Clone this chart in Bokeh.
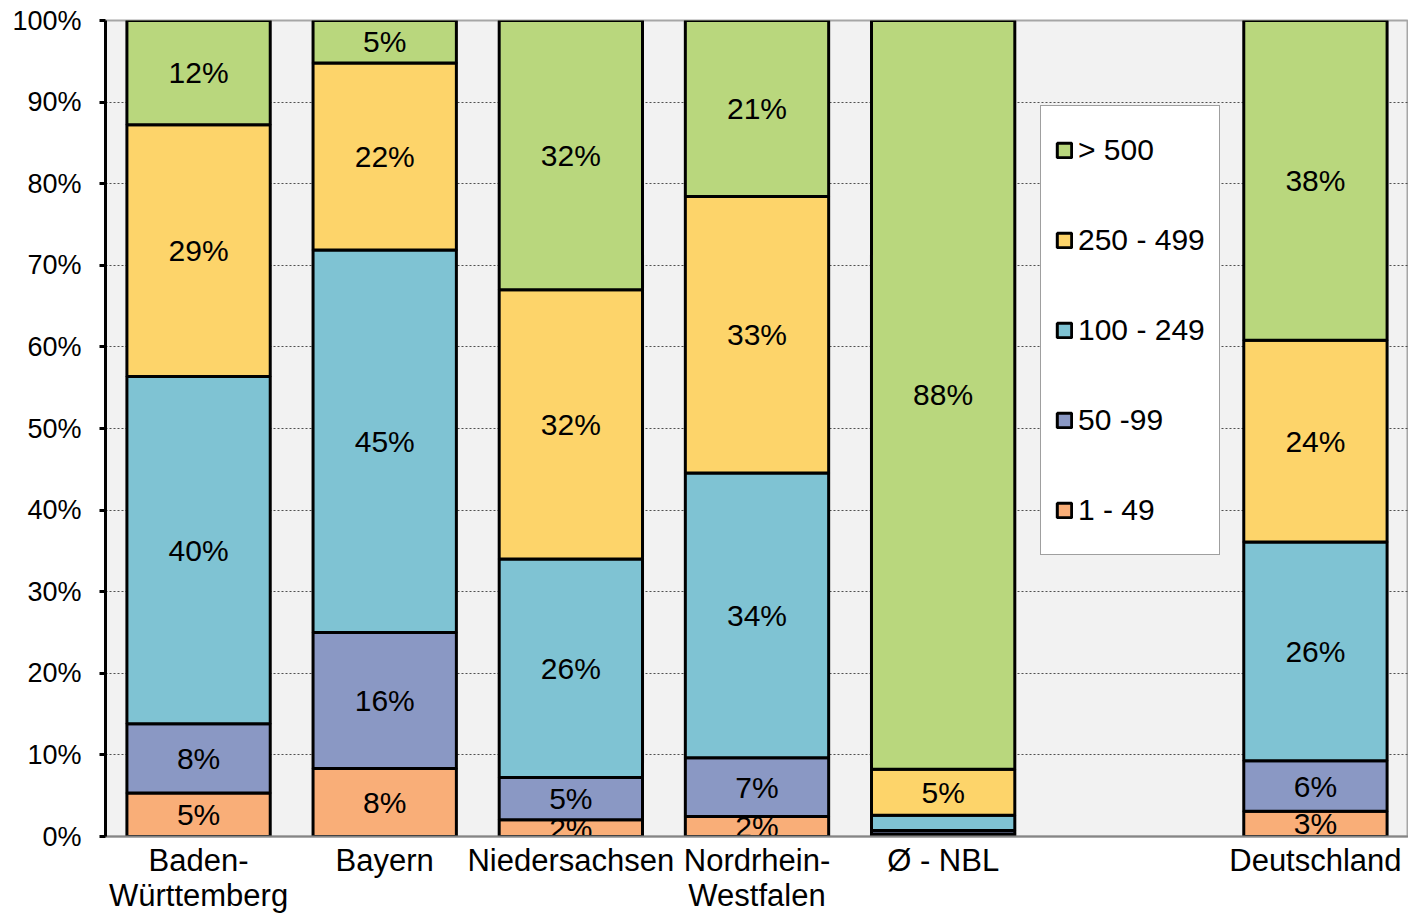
from bokeh.plotting import figure
from bokeh.models import (ColumnDataSource, Range1d, FactorRange, Legend, LegendItem,
                          SingleIntervalTicker, PrintfTickFormatter)
from bokeh.core.properties import value
from bokeh.embed import file_html
from bokeh.resources import INLINE

# ---- data (raw shares in %, chart normalises each column to 100%) ----
factors = ["Baden-\nWürttemberg", "Bayern", "Niedersachsen", "Nordrhein-\nWestfalen", "Ø - NBL", " ", "Deutschland"]
categories = ["Baden-\nWürttemberg", "Bayern", "Niedersachsen", "Nordrhein-\nWestfalen", "Ø - NBL", "Deutschland"]
s_1_49 = [5, 8, 2, 2.4, 0.3, 3]
s_50_99 = [8, 16, 5, 7, 0.4, 6]
s_100_249 = [40, 45, 26, 34, 1.8, 26]
s_250_499 = [29, 22, 32, 33, 5.4, 24]
s_500 = [12, 5, 32, 21, 88, 38]
series_names = ["1 - 49", "50 -99", "100 - 249", "250 - 499", "> 500"]
series_colors = ["#F9AE78", "#8A98C4", "#7FC3D3", "#FDD46A", "#B9D77D"]
y_ticks_step = 10

FONT = "Liberation Sans"
raw = [s_1_49, s_50_99, s_100_249, s_250_499, s_500]
keys = ["a", "b", "c", "d", "e"]
totals = [sum(col) for col in zip(*raw)]
data = {"x": categories}
for k, ser in zip(keys, raw):
    data[k] = [v / t * 100 for v, t in zip(ser, totals)]
src = ColumnDataSource(data)

# label positions
lx, ly, lt = [], [], []
for i, c in enumerate(categories):
    cum = 0
    for k, ser in zip(keys, raw):
        h = data[k][i]
        if ser[i] >= 2:
            lx.append(c)
            ly.append(cum + h / 2)
            lt.append(f"{round(ser[i])}%")
        cum += h
lsrc = ColumnDataSource(dict(x=lx, y=ly, t=lt))

p = figure(width=1408, height=916, x_range=FactorRange(*factors, range_padding=0),
           y_range=Range1d(0, 100), output_backend="svg", toolbar_location=None)
p.min_border_left = 105
p.min_border_top = 20
p.min_border_bottom = 80
p.min_border_right = 0
p.background_fill_color = "#F2F2F2"
p.border_fill_color = "white"
p.outline_line_color = "#A6A6A6"
p.outline_line_width = 2

renderers = p.vbar_stack(keys, x="x", width=0.77, source=src, color=series_colors,
                         line_color="black", line_width=3)

p.text(x="x", y="y", text="t", source=lsrc, text_align="center", text_baseline="middle",
       text_font=value(FONT), text_font_size="30px", text_color="black")

# axes
p.xgrid.grid_line_color = None
p.ygrid.grid_line_color = "#505050"
p.ygrid.grid_line_dash = "2 2"
p.ygrid.grid_line_width = 1
p.yaxis.ticker = SingleIntervalTicker(interval=y_ticks_step)
p.yaxis.formatter = PrintfTickFormatter(format="%d%%")
p.yaxis.axis_line_color = "black"
p.yaxis.axis_line_width = 3
p.yaxis.major_tick_line_width = 3
p.yaxis.major_tick_line_color = "black"
p.yaxis.major_tick_out = 6
p.yaxis.major_tick_in = 0
p.yaxis.minor_tick_line_color = None
p.yaxis.major_label_text_font = FONT
p.yaxis.major_label_text_font_size = "27px"
p.yaxis.major_label_text_color = "black"
p.yaxis.major_label_standoff = 18

p.xaxis.axis_line_color = "#868686"
p.xaxis.axis_line_width = 2
p.xaxis.major_tick_line_color = None
p.xaxis.minor_tick_line_color = None
p.xaxis.major_tick_out = 0
p.xaxis.major_tick_in = 0
p.xaxis.major_label_text_font = FONT
p.xaxis.major_label_text_font_size = "31px"
p.xaxis.major_label_text_line_height = 1.0
p.xaxis.major_label_text_color = "black"
p.xaxis.major_label_standoff = 6
p.xaxis.major_label_orientation = "horizontal"

items = [LegendItem(label=n, renderers=[r]) for n, r in zip(series_names, renderers)][::-1]
legend = Legend(items=items, location=(935, 281), orientation="vertical",
                glyph_width=18, glyph_height=18, label_height=60, spacing=30, padding=14,
                label_standoff=5, label_text_font=FONT, label_text_font_size="30px",
                label_text_color="black", border_line_color="#404040", border_line_width=1,
                background_fill_color="white", background_fill_alpha=1.0, margin=0)
p.add_layout(legend)

open("out.html", "w").write(file_html(p, INLINE))
